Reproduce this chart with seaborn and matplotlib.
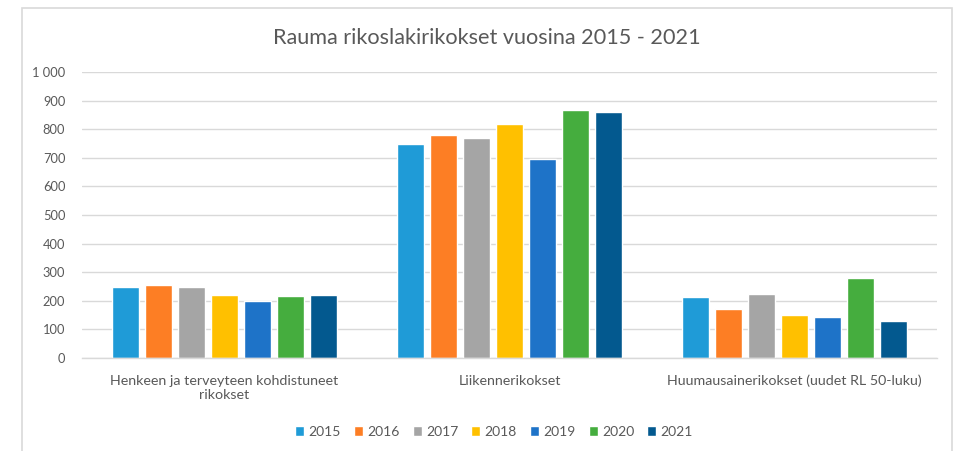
import matplotlib
matplotlib.use("Agg")
import matplotlib.pyplot as plt
import seaborn as sns
import pandas as pd
from matplotlib.patches import Rectangle

# Crime categories and yearly counts
categories = [
    "Henkeen ja terveyteen kohdistuneet\nrikokset",
    "Liikennerikokset",
    "Huumausainerikokset (uudet RL 50-luku)",
]
years = ["2015", "2016", "2017", "2018", "2019", "2020", "2021"]
v2015 = [250, 748, 214]
v2016 = [254, 779, 171]
v2017 = [248, 770, 223]
v2018 = [220, 819, 149]
v2019 = [200, 695, 142]
v2020 = [216, 868, 280]
v2021 = [220, 860, 129]
yticks = [0, 100, 200, 300, 400, 500, 600, 700, 800, 900, 1000]
ytick_labels = ["0", "100", "200", "300", "400", "500", "600", "700", "800", "900", "1 000"]

colors = ["#1f9bd7", "#fd7e24", "#a5a5a5", "#ffc000", "#1e73c8", "#45ad3e", "#03598f"]

series = [v2015, v2016, v2017, v2018, v2019, v2020, v2021]
rows = []
for year, vals in zip(years, series):
    for cat, v in zip(categories, vals):
        rows.append({"Rikosryhmä": cat, "Vuosi": year, "Määrä": v})
df = pd.DataFrame(rows)

sns.set_theme(style="white")
plt.rcParams["font.family"] = ["Lato", "DejaVu Sans"]

W, H = 955, 451
fig = plt.figure(figsize=(W / 100, H / 100), dpi=100)
fig.patch.set_facecolor("white")

# chart frame
fig.add_artist(Rectangle((22 / W, -0.02), (952 - 22) / W, 1.02 - 8 / H,
                         transform=fig.transFigure, fill=False,
                         edgecolor="#d9d9d9", linewidth=1.2))

ax = fig.add_axes([82 / W, 1 - 358 / H, (937 - 82) / W, (358 - 72) / H])

sns.barplot(data=df, x="Rikosryhmä", y="Määrä", hue="Vuosi", order=categories,
            hue_order=years, palette=colors, width=0.81, gap=0.2,
            saturation=1, ax=ax, legend=True)

ax.set_ylim(0, 1000)
ax.set_xlim(-0.5, 2.5)
ax.set_yticks(yticks)
ax.set_yticklabels(ytick_labels)
ax.yaxis.grid(True, color="#d9d9d9", linewidth=1.0)
ax.set_axisbelow(True)
for s in ["top", "right", "left"]:
    ax.spines[s].set_visible(False)
ax.spines["bottom"].set_color("#d9d9d9")
ax.spines["bottom"].set_linewidth(1.0)
ax.set_xlabel("")
ax.set_ylabel("")
ax.tick_params(axis="y", length=0, pad=12, labelsize=9.3, labelcolor="#595959")
ax.tick_params(axis="x", length=0, pad=12, labelsize=10.3, labelcolor="#595959")
for lbl in ax.get_xticklabels():
    lbl.set_linespacing(1.25)
    lbl.set_verticalalignment("top")

fig.text(487 / W, 1 - 38 / H, "Rauma rikoslakirikokset vuosina 2015 - 2021",
         ha="center", va="center", fontsize=15.6, color="#595959")

handles, labels = ax.get_legend_handles_labels()
ax.legend_.remove()
fig.legend(handles, labels, loc="center", bbox_to_anchor=(494 / W, 1 - 432 / H),
           ncol=7, frameon=False, fontsize=10, labelcolor="#595959",
           handlelength=0.65, handleheight=0.65, handletextpad=0.3,
           columnspacing=0.95)

fig.savefig("out.png", dpi=100)
